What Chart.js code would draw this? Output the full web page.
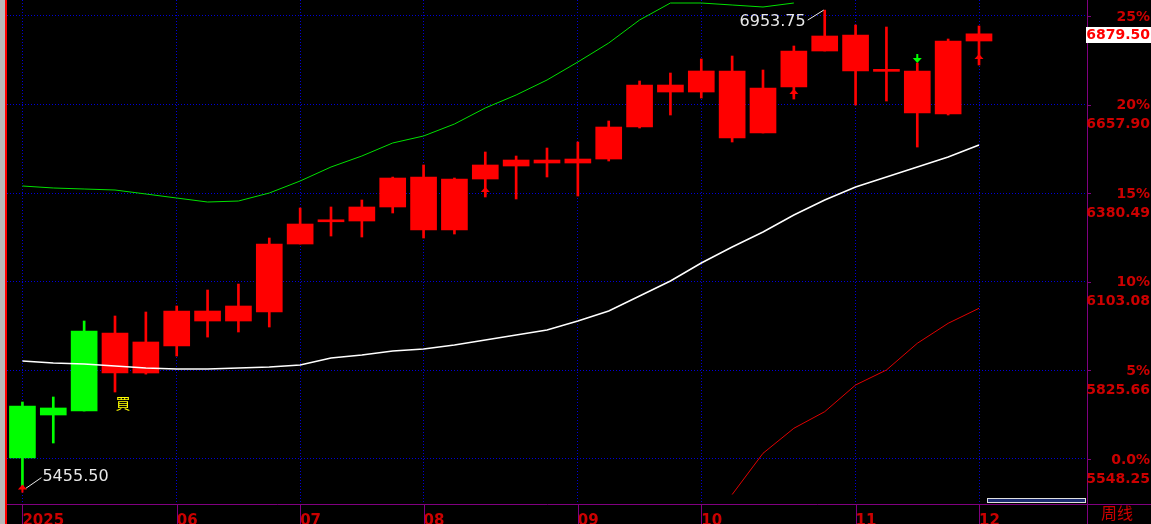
<!DOCTYPE html>
<html>
<head>
<meta charset="utf-8">
<script src="https://cdn.jsdelivr.net/npm/chart.js@4"></script>
<style>
  html, body { margin: 0; padding: 0; background: #000; overflow: hidden; }
  canvas { display: block; }
</style>
</head>
<body>
<canvas id="kline" width="1151" height="524"></canvas>
<script>
// weekly bars, friday dates
var weeks = ['2025-05-02','2025-05-09','2025-05-16','2025-05-23','2025-05-30',
  '2025-06-06','2025-06-13','2025-06-20','2025-06-27',
  '2025-07-04','2025-07-11','2025-07-18','2025-07-25',
  '2025-08-01','2025-08-08','2025-08-15','2025-08-22','2025-08-29',
  '2025-09-05','2025-09-12','2025-09-19','2025-09-26',
  '2025-10-03','2025-10-10','2025-10-17','2025-10-24','2025-10-31',
  '2025-11-07','2025-11-14','2025-11-21','2025-11-28',
  '2025-12-05'];
var emptySlots = 3;

var opens  = [5714.2,5686.0,5698.5,5942.8,5817.5,5902.0,6011.6,5980.3,6008.5,6221.4,6291.0,6293.4,6337.3,6431.2,6265.2,6424.9,
              6465.6,6484.4,6475.0,6487.5,6587.7,6719.2,6697.3,6763.1,6569.0,6713.0,6825.7,6875.8,6764.0,6763.1,6628.4,6857.0];
var highs  = [5726.7,5742.4,5980.3,5996.0,6008.5,6027.3,6077.4,6096.0,6240.2,6334.1,6337.3,6359.2,6431.0,6468.8,6428.0,6509.5,
              6496.9,6522.0,6540.8,6606.5,6731.8,6756.8,6800.7,6810.0,6766.2,6841.4,6953.75,6907.1,6900.8,6788.1,6863.3,6904.0];
var lows   = [5455.5,5598.3,5698.5,5758.0,5814.0,5870.7,5930.0,5945.9,5961.5,6221.4,6246.4,6243.3,6318.5,6240.2,6252.7,6368.6,
              6362.3,6431.2,6371.7,6481.3,6584.6,6625.3,6678.5,6540.8,6569.0,6675.4,6825.7,6656.6,6669.1,6525.0,6625.3,6781.9];
var closes = [5551.4,5708.0,5949.0,5817.5,5914.6,6011.6,5980.3,6027.3,6221.4,6284.0,6295.0,6337.3,6428.0,6265.2,6424.9,6468.8,
              6484.4,6475.0,6487.5,6587.7,6719.2,6697.3,6763.1,6553.3,6709.8,6825.7,6872.7,6763.1,6762.0,6631.6,6857.0,6879.5];
// trading state per bar: 's' = sell side (green), 'b' = after buy signal (red)
var states = ['s','s','s','b','b','b','b','b','b','b','b','b','b','b','b','b',
              'b','b','b','b','b','b','b','b','b','b','b','b','b','b','b','b'];

// band lines (null where the line is off the visible range)
var bandUpper = [6403.0,6396.8,6393.6,6390.5,6378.0,6365.4,6352.9,6356.0,6381.1,6418.7,6462.5,6497.0,6537.7,6559.6,6597.1,6647.3,
                 6688.0,6734.9,6791.3,6850.7,6922.8,6976.0,6976.0,6969.7,6963.5,6976.0,null,null,null,null,null,null];
var bandMid   = [5855.1,5848.8,5845.7,5839.4,5833.2,5830.0,5830.0,5833.2,5836.3,5842.6,5864.5,5873.9,5886.4,5892.7,5905.2,5920.8,
                 5936.5,5952.2,5980.3,6011.6,6058.6,6105.6,6161.9,6212.0,6259.0,6312.2,6359.2,6399.9,6431.2,6462.5,6493.8,6531.4];
var bandLower = [null,null,null,null,null,null,null,null,null,null,null,null,null,null,null,null,
                 null,null,null,null,null,null,null,5437.0,5566.1,5644.4,5696.4,5779.9,5826.9,5910.5,5973.1,6020.1];

// right axis ticks
var tickValues = [5548.25,5825.66,6103.08,6380.49,6657.90,6935.31];
var pctLabels  = ['0.0%','5%','10%','15%','20%','25%'];
var priceLabels = ['5548.25','5825.66','6103.08','6380.49','6657.90','6935.31'];
var yMin = 5407.35, yMax = 6985.4;

// markers: bar index + price
var upArrows = [{i:0, v:5455.5}, {i:15, v:6387.3}, {i:25, v:6694.2}, {i:31, v:6803.8}];
var downArrows = [{i:29, v:6788.1}];
var buyMark = {i:3, v:5723.6, text:'買'};

var RED = '#ff0000', GREEN = '#00ff00', AXIS = '#800080', GRID = 'rgb(0,0,215)', TXT = '#cc0000';

var labels = weeks.slice();
for (var k = 0; k < emptySlots; k++) labels.push('');

var tickLabels = labels.map(function(d, i) {
  if (!d) return '';
  if (i === 0) return d.slice(0, 4);
  return d.slice(5, 7) !== weeks[i - 1].slice(5, 7) ? d.slice(5, 7) : '';
});

var colors = states.map(function(s) { return s === 's' ? GREEN : RED; });
var bodies = opens.map(function(o, i) { return [Math.min(o, closes[i]), Math.max(o, closes[i])]; });
var wicks = lows.map(function(l, i) { return [l, highs[i]]; });

var hiIdx = highs.indexOf(Math.max.apply(null, highs));
var loIdx = lows.indexOf(Math.min.apply(null, lows));

var overlay = {
  id: 'overlay',
  beforeDraw: function(chart) {
    var c = chart.ctx;
    c.save();
    c.fillStyle = '#000';
    c.fillRect(0, 0, chart.width, chart.height);
    c.restore();
  },
  afterDraw: function(chart) {
    var c = chart.ctx, x = chart.scales.x, y = chart.scales.y, a = chart.chartArea;
    c.save();

    // left frame
    c.fillStyle = '#b8b8b8';
    c.fillRect(0, 0, 5, chart.height);
    c.fillStyle = RED;
    c.fillRect(5, 0, 2, chart.height);

    // axis lines continued into the label strip
    c.strokeStyle = AXIS;
    c.lineWidth = 1;
    c.beginPath();
    c.moveTo(a.right, a.bottom + 0.5); c.lineTo(chart.width, a.bottom + 0.5);
    c.moveTo(Math.round(a.right) + 0.5, a.bottom); c.lineTo(Math.round(a.right) + 0.5, chart.height);
    tickLabels.forEach(function(t, i) {
      if (!t) return;
      var px = Math.round(x.getPixelForValue(i)) + 0.5;
      c.moveTo(px, a.bottom); c.lineTo(px, chart.height);
    });
    tickValues.forEach(function(v) {
      var py = Math.round(y.getPixelForValue(v)) + 0.5;
      c.moveTo(a.right, py); c.lineTo(a.right + 4, py);
    });
    c.stroke();

    // right axis labels
    c.font = 'bold 14px "DejaVu Sans"';
    c.fillStyle = TXT;
    c.textAlign = 'right';
    c.textBaseline = 'middle';
    tickValues.forEach(function(v, i) {
      var py = y.getPixelForValue(v);
      c.fillText(pctLabels[i], chart.width - 1, py + 1);
      c.fillText(priceLabels[i], chart.width - 1, py + 20);
    });

    // last price box
    var last = closes[closes.length - 1];
    var lp = y.getPixelForValue(last);
    c.fillStyle = '#ffffff';
    c.fillRect(a.right - 1, Math.round(lp) - 7, chart.width - a.right + 1, 16);
    c.fillStyle = RED;
    c.fillText(last.toFixed(2), chart.width - 1, lp + 2);

    // period label
    c.font = '16px "Noto Sans CJK SC"';
    c.fillStyle = TXT;
    c.textAlign = 'left';
    c.textBaseline = 'top';
    c.fillText('周线', 1101, 505);

    // scroll box
    c.fillStyle = '#1c2c70';
    c.fillRect(987.5, 498.5, 98, 4);
    c.strokeStyle = '#e0e0e0';
    c.strokeRect(987.5, 498.5, 98, 4);

    // high / low notes
    c.font = '16px "DejaVu Sans"';
    c.fillStyle = '#e8e8e8';
    c.strokeStyle = '#e8e8e8';
    c.textBaseline = 'middle';
    var hx = x.getPixelForValue(hiIdx), hy = y.getPixelForValue(highs[hiIdx]);
    c.beginPath(); c.moveTo(hx - 1, hy); c.lineTo(hx - 17, hy + 10); c.stroke();
    c.textAlign = 'right';
    c.fillText(highs[hiIdx].toFixed(2), hx - 19, hy + 12);
    var lx = x.getPixelForValue(loIdx), ly = y.getPixelForValue(lows[loIdx]);
    c.beginPath(); c.moveTo(lx + 3, ly); c.lineTo(lx + 19, ly - 11); c.stroke();
    c.textAlign = 'left';
    c.fillText(lows[loIdx].toFixed(2), lx + 20, ly - 12);

    // arrows
    c.fillStyle = RED;
    upArrows.forEach(function(m) {
      var px = x.getPixelForValue(m.i), py = y.getPixelForValue(m.v);
      c.beginPath();
      c.moveTo(px, py - 4); c.lineTo(px + 4.5, py + 1); c.lineTo(px - 4.5, py + 1);
      c.closePath(); c.fill();
      c.fillRect(px - 1, py, 2, 4);
    });
    c.fillStyle = GREEN;
    downArrows.forEach(function(m) {
      var px = x.getPixelForValue(m.i), py = y.getPixelForValue(m.v);
      c.beginPath();
      c.moveTo(px, py); c.lineTo(px + 4.5, py - 5); c.lineTo(px - 4.5, py - 5);
      c.closePath(); c.fill();
      c.fillRect(px - 1, py - 9, 2, 5);
    });

    // buy mark
    c.font = '15px "Noto Sans CJK TC"';
    c.fillStyle = '#ffff00';
    c.textAlign = 'center';
    c.textBaseline = 'middle';
    c.fillText(buyMark.text, x.getPixelForValue(buyMark.i) + 8, y.getPixelForValue(buyMark.v));

    c.restore();
  }
};

function lineSet(data, color, width) {
  return { type: 'line', data: data, borderColor: color, borderWidth: width, pointRadius: 0,
           tension: 0, fill: false, order: 0, spanGaps: false };
}

new Chart(document.getElementById('kline').getContext('2d'), {
  type: 'bar',
  data: {
    labels: labels,
    datasets: [
      lineSet(bandUpper, '#00e000', 1),
      lineSet(bandMid, '#ffffff', 1.5),
      lineSet(bandLower, '#e00000', 1),
      { data: bodies, backgroundColor: colors, barThickness: 26, grouped: false, minBarLength: 2, order: 1 },
      { data: wicks, backgroundColor: colors, barThickness: 2, grouped: false, order: 2 }
    ]
  },
  options: {
    responsive: false,
    animation: false,
    layout: { padding: { left: 7, top: 0, right: 0, bottom: 0 } },
    plugins: { legend: { display: false }, tooltip: { enabled: false } },
    scales: {
      x: {
        offset: true,
        afterFit: function(s) { s.height = 20; },
        grid: {
          offset: false,
          drawTicks: false,
          color: function(ctx) { return tickLabels[ctx.index] ? GRID : 'rgba(0,0,0,0)'; }
        },
        border: { color: AXIS, width: 1, dash: [1, 2] },
        ticks: {
          autoSkip: false, maxRotation: 0, minRotation: 0, align: 'start', padding: 8,
          color: TXT, font: { family: 'DejaVu Sans', size: 15, weight: 'bold' },
          callback: function(v, i) { return tickLabels[i]; }
        }
      },
      y: {
        position: 'right',
        min: yMin, max: yMax,
        afterFit: function(s) { s.width = 64; },
        afterBuildTicks: function(s) { s.ticks = tickValues.map(function(v) { return { value: v }; }); },
        grid: { color: GRID, drawTicks: false },
        border: { color: AXIS, width: 1, dash: [1, 2] },
        ticks: { display: false }
      }
    }
  },
  plugins: [overlay]
});
</script>
</body>
</html>
